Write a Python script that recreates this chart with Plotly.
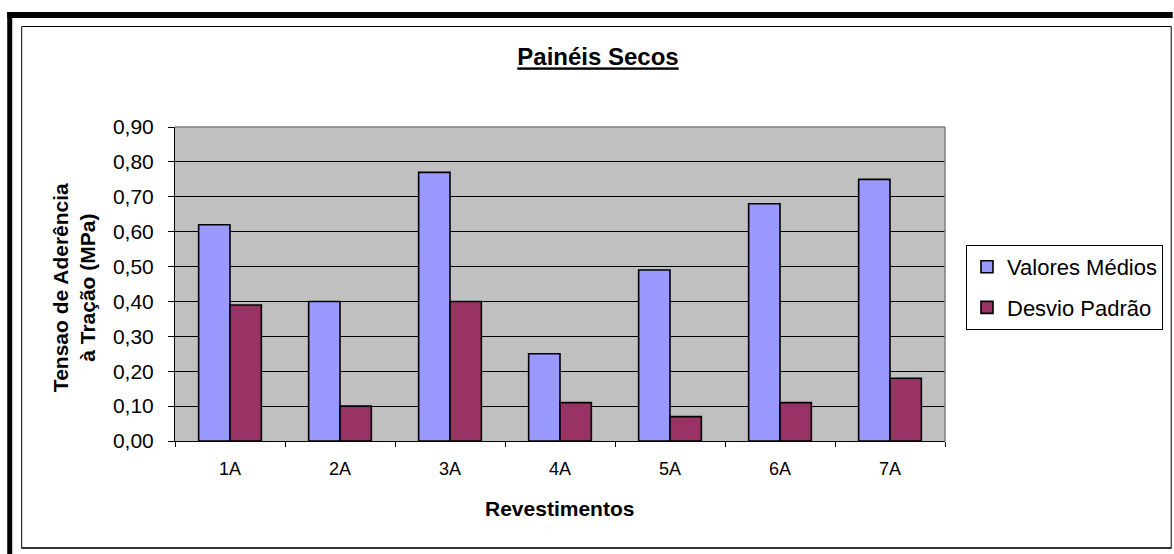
import plotly.graph_objects as go

# Ensaio de aderência - painéis secos
revestimentos = ["1A", "2A", "3A", "4A", "5A", "6A", "7A"]
valores_medios = [0.62, 0.40, 0.77, 0.25, 0.49, 0.68, 0.75]
desvio_padrao = [0.39, 0.10, 0.40, 0.11, 0.07, 0.11, 0.18]
y_ticks = [0.0, 0.1, 0.2, 0.3, 0.4, 0.5, 0.6, 0.7, 0.8, 0.9]

W, H = 1174, 554
L, R, T, B = 175, 946, 127, 441   # plot area in pixels
FONT = "Liberation Sans, Arial, sans-serif"


def px(x):
    return (x - L) / (R - L)


def py(y):
    return (B - y) / (B - T)


fig = go.Figure()
fig.add_trace(go.Bar(
    x=revestimentos, y=valores_medios, name="Valores Médios",
    marker=dict(color="#9999FF", line=dict(color="black", width=1.6)),
    legendgroup="a",
))
fig.add_trace(go.Bar(
    x=revestimentos, y=desvio_padrao, name="Desvio Padrão",
    marker=dict(color="#993366", line=dict(color="black", width=1.6)),
    legendgroup="b",
))

shapes = [
    # outer heavy frame (left and top edges)
    dict(type="rect", xref="paper", yref="paper", x0=px(7), x1=px(12), y0=py(554), y1=py(12),
         fillcolor="black", line=dict(width=0), layer="above"),
    dict(type="rect", xref="paper", yref="paper", x0=px(7), x1=px(1174), y0=py(18), y1=py(12),
         fillcolor="black", line=dict(width=0), layer="above"),
    # inner chart frame
    dict(type="rect", xref="paper", yref="paper", x0=px(21.5), x1=px(1172.5), y0=py(547.5), y1=py(26.5),
         line=dict(color="black", width=1), layer="above"),
    dict(type="line", xref="paper", yref="paper", x0=px(21), x1=px(1173), y0=py(548), y1=py(548),
         line=dict(color="#333333", width=2), layer="above"),
    # plot-area border, top and right
    dict(type="line", xref="paper", yref="paper", x0=0, x1=1, y0=1, y1=1,
         line=dict(color="#808080", width=1.5), layer="above"),
    dict(type="line", xref="paper", yref="paper", x0=1, x1=1, y0=0, y1=1,
         line=dict(color="#808080", width=1.5), layer="above"),
]

annotations = [
    dict(text="<b>Revestimentos</b>", xref="paper", yref="paper",
         x=px(560), y=py(508), xanchor="center", yanchor="middle", showarrow=False,
         font=dict(family=FONT, size=21, color="black")),
    dict(text="<b>Tensao de Aderência<br>à Tração (MPa)</b>", xref="paper", yref="paper",
         x=px(74), y=py(288), xanchor="center", yanchor="middle", showarrow=False,
         textangle=-90, font=dict(family=FONT, size=21, color="black")),
]

fig.update_layout(
    width=W, height=H,
    margin=dict(l=L, r=W - R, t=T, b=H - B, pad=0),
    paper_bgcolor="white",
    plot_bgcolor="#C0C0C0",
    separators=", ",
    barmode="group",
    bargap=0.43,
    bargroupgap=0,
    title=dict(text="<b><u>Painéis Secos</u></b>", x=598 / W, xref="container", xanchor="center",
               y=1 - 57 / H, yref="container", yanchor="middle",
               font=dict(family=FONT, size=24, color="black")),
    legend=dict(
        x=px(966), y=py(245), xanchor="left", yanchor="top",
        bordercolor="black", borderwidth=1, bgcolor="white",
        font=dict(family=FONT, size=22, color="black"),
        traceorder="grouped", tracegroupgap=9,
    ),
    shapes=shapes,
    annotations=annotations,
)

fig.update_xaxes(
    type="category",
    showline=True, linecolor="black", linewidth=1,
    ticks="outside", tickson="boundaries", ticklen=5, tickcolor="black",
    showgrid=False,
    tickfont=dict(family=FONT, size=18, color="black"),
    ticklabelstandoff=11,
)

fig.update_yaxes(
    range=[0, 0.9], tickvals=y_ticks, tickformat=".2f",
    showline=True, linecolor="black", linewidth=1,
    ticks="outside", ticklen=6, tickcolor="black",
    showgrid=True, gridcolor="black", gridwidth=1,
    zeroline=False,
    tickfont=dict(family=FONT, size=21, color="black"),
    ticklabelstandoff=10,
)

fig.write_html("out.html")
